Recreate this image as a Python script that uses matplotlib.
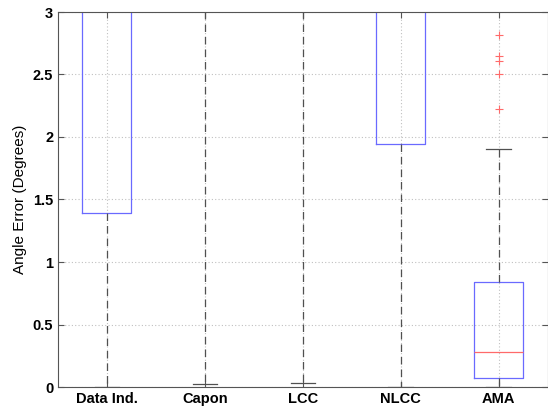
import matplotlib
matplotlib.use('Agg')
import matplotlib.pyplot as plt

# Box statistics (values above 3 are off-scale)
methods = ['Data Ind.', 'Capon', 'LCC', 'NLCC', 'AMA']
q1 = [1.39, 4.0, 4.0, 1.945, 0.072]
median = [4.5, 5.0, 5.0, 4.5, 0.28]
q3 = [6.0, 6.0, 6.0, 6.0, 0.84]
whisker_low = [0.003, 0.024, 0.032, 0.003, 0.004]
whisker_high = [10.0, 10.0, 10.0, 10.0, 1.905]
outliers = [[], [], [], [], [2.82, 2.65, 2.61, 2.50, 2.22]]

plt.rcParams['font.family'] = ['Liberation Sans', 'DejaVu Sans']

stats = []
for i in range(len(methods)):
    stats.append({
        'label': methods[i],
        'q1': q1[i], 'med': median[i], 'q3': q3[i],
        'whislo': whisker_low[i], 'whishi': whisker_high[i],
        'fliers': outliers[i],
    })

fig = plt.figure(figsize=(5.48, 4.15), dpi=100)
ax = fig.add_axes([58 / 548, 28 / 415, 489.5 / 548, 375 / 415])

ax.grid(True, linestyle=(0, (1, 2)), color='#c0c0c0', linewidth=0.8)
ax.set_axisbelow(True)

ax.bxp(stats, positions=range(1, 6), widths=0.5, capwidths=0.25,
       boxprops=dict(color='#6a6aff', linewidth=0.9),
       medianprops=dict(color='#ff6a6a', linewidth=0.9),
       whiskerprops=dict(color='#505050', linestyle=(0, (6, 4)), linewidth=0.9),
       capprops=dict(color='#505050', linewidth=0.9),
       flierprops=dict(marker='+', color='#ff6a6a', markeredgecolor='#ff6a6a',
                       markersize=5.5, markeredgewidth=0.8))

ax.set_xlim(0.5, 5.5)
ax.set_ylim(0, 3)
ax.set_yticks([0, 0.5, 1, 1.5, 2, 2.5, 3])
ax.set_yticklabels(['0', '0.5', '1', '1.5', '2', '2.5', '3'])
ax.set_xticks(range(1, 6))
ax.set_xticklabels(methods)
ax.tick_params(direction='in', top=True, right=True, length=4, color='#555555')
for lbl in ax.get_xticklabels() + ax.get_yticklabels():
    lbl.set_fontweight('bold')
    lbl.set_fontsize(10.5)
for s in ax.spines.values():
    s.set_color('#555555')
    s.set_linewidth(0.8)

ax.set_ylabel('Angle Error (Degrees)', fontsize=11)

fig.savefig('out.png', dpi=100)
